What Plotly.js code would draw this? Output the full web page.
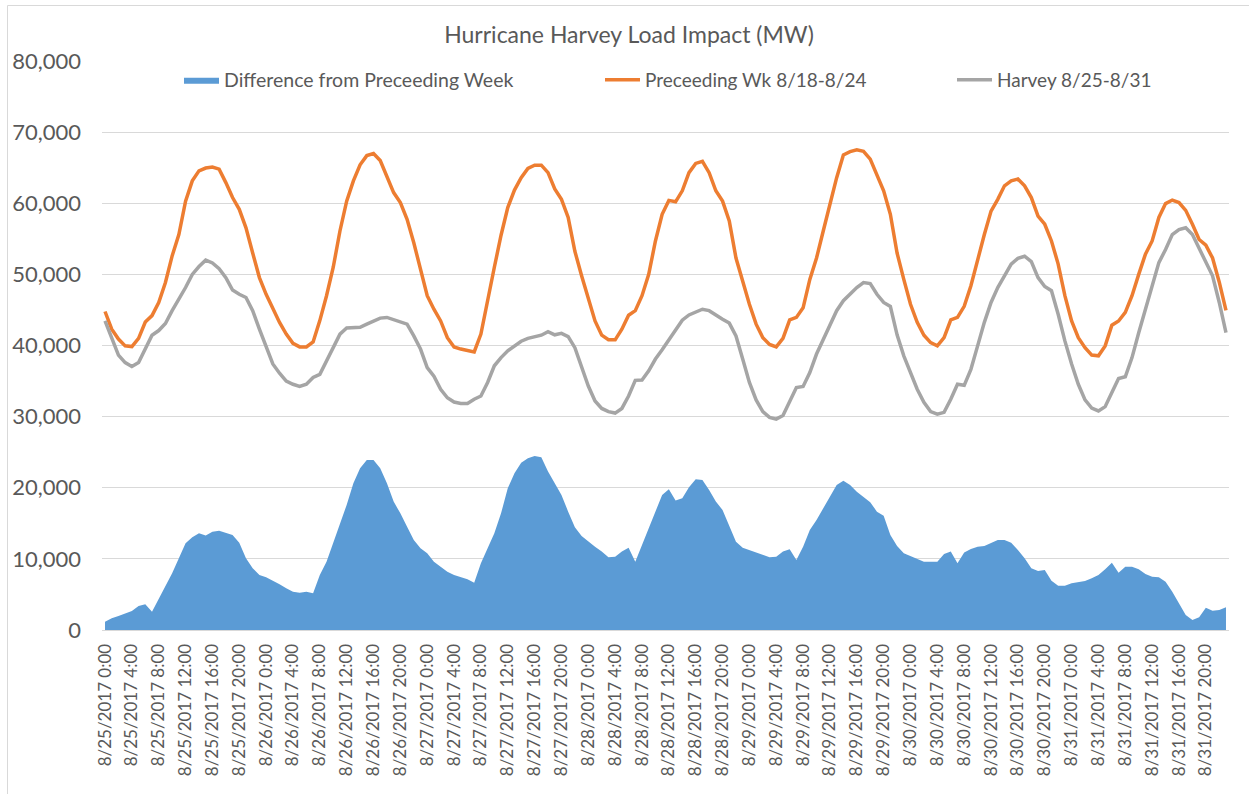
<!DOCTYPE html>
<html>
<head>
<meta charset="utf-8">
<script src="https://cdn.plot.ly/plotly-3.0.1.min.js"></script>
<style>
  html, body { margin: 0; padding: 0; background: #ffffff; }
  #chart { width: 1249px; height: 794px; }
</style>
</head>
<body>
<div id="chart"></div>
<script>
// Hourly load, 8/25/2017 0:00 through 8/31/2017 23:00 (MW)
const days = ['8/25/2017', '8/26/2017', '8/27/2017', '8/28/2017', '8/29/2017', '8/30/2017', '8/31/2017'];

const hours = [];
for (const d of days) {
  for (let h = 0; h < 24; h++) hours.push(d + ' ' + h + ':00');
}
// Axis labels every 4 hours
const tickLabels = hours.filter((_, i) => i % 4 === 0);

const difference = [
  1170, 1640, 1970, 2340, 2670, 3380, 3610, 2580, 4450, 6330,
  7970, 10080, 12190, 13030, 13600, 13270, 13830, 13970, 13690, 13360,
  12280, 10080, 8670, 7740, 7410, 6940, 6420, 5860, 5390, 5250,
  5390, 5160, 7740, 9610, 12190, 14770, 17580, 20630, 22740, 23910,
  23910, 22740, 20630, 18050, 16400, 14530, 12660, 11490, 10780, 9610,
  8910, 8200, 7740, 7410, 7130, 6660, 9380, 11490, 13600, 16410,
  19920, 22030, 23530, 24140, 24470, 24280, 22270, 20630, 18990, 16640,
  14440, 13220, 12420, 11720, 11020, 10220, 10310, 11020, 11580, 9610,
  11950, 14300, 16640, 18990, 19780, 18190, 18520, 20060, 21190, 21100,
  19690, 18050, 16880, 14530, 12420, 11580, 11250, 10880, 10550, 10220,
  10310, 11020, 11340, 9840, 11700, 14060, 15470, 17110, 18750, 20390,
  21000, 20390, 19450, 18750, 17950, 16640, 16080, 13360, 11810, 10780,
  10410, 10080, 9610, 9610, 9610, 10690, 11020, 9380, 10880, 11390,
  11720, 11810, 12190, 12660, 12660, 12280, 11250, 10080, 8670, 8300,
  8440, 6940, 6230, 6230, 6560, 6700, 6890, 7270, 7740, 8530,
  9470, 8060, 8910, 8910, 8530, 7880, 7500, 7410, 6800, 5390,
  3750, 2110, 1410, 1780, 3140, 2720, 2810, 3190
];

const preceding = [
  44780, 42300, 40900, 39950, 39850, 41000, 43300, 44200, 46050, 48850,
  52600, 55600, 60300, 63150, 64550, 64950, 65100, 64800, 62900, 60800,
  59150, 56550, 53000, 49550, 47200, 45100, 43250, 41600, 40300, 39800,
  39800, 40500, 43500, 47000, 51000, 56100, 60300, 63150, 65400, 66700,
  67000, 66000, 63600, 61500, 60100, 57750, 54450, 50800, 47000, 45100,
  43450, 41100, 39800, 39500, 39350, 39100, 41600, 46500, 51000, 55500,
  59400, 61850, 63600, 64900, 65350, 65350, 64300, 62000, 60550, 58000,
  53250, 49800, 46500, 43450, 41450, 40800, 40800, 42300, 44250, 44900,
  47000, 50000, 54700, 58450, 60400, 60200, 61750, 64300, 65600, 65900,
  64300, 61750, 60300, 57500, 52300, 48900, 45800, 43000, 41100, 40150,
  39800, 41000, 43600, 43950, 45300, 49300, 52300, 56100, 59850, 63600,
  66800, 67250, 67500, 67300, 66200, 63850, 61750, 58450, 53000, 49300,
  45800, 43250, 41450, 40400, 39950, 41100, 43600, 43950, 45500, 48400,
  52150, 55600, 58900, 60550, 62450, 63150, 63400, 62450, 60800, 58200,
  57050, 54700, 51450, 47000, 43450, 41100, 39700, 38650, 38550, 39950,
  42850, 43450, 44650, 47000, 50000, 52850, 54700, 58000, 59950, 60450,
  60100, 59000, 57050, 54900, 54100, 52300, 48900, 44950
];

const harvey = [
  43470, 40900, 38640, 37600, 37050, 37600, 39500, 41450, 42100, 43100,
  44900, 46500, 48150, 50000, 51100, 52000, 51600, 50800, 49550, 47800,
  47200, 46750, 44900, 42300, 39950, 37400, 36100, 35000, 34550, 34250,
  34550, 35500, 35950, 37850, 39950, 41600, 42450, 42550, 42550, 43000,
  43450, 43850, 43950, 43600, 43350, 43000, 41350, 39500, 36900, 35700,
  33850, 32650, 32050, 31850, 31850, 32450, 32900, 34800, 37150, 38300,
  39250, 39950, 40600, 41000, 41200, 41450, 41950, 41500, 41700, 41250,
  39700, 36900, 34300, 32200, 31150, 30700, 30500, 31150, 32900, 35100,
  35150, 36450, 38100, 39400, 40800, 42150, 43550, 44300, 44750, 45100,
  44900, 44250, 43700, 43150, 41350, 38100, 34800, 32350, 30700, 29900,
  29650, 30150, 32250, 34100, 34250, 36200, 38800, 40900, 43000, 44900,
  46300, 47200, 48150, 48850, 48700, 47200, 46050, 45500, 41500, 38550,
  36200, 33850, 32000, 30700, 30350, 30600, 32450, 34550, 34400, 36650,
  39950, 43250, 46050, 48150, 49800, 51450, 52250, 52550, 51800, 49550,
  48300, 47700, 44400, 40650, 37400, 34550, 32350, 31200, 30800, 31400,
  33400, 35350, 35600, 38300, 41800, 45100, 48400, 51650, 53500, 55600,
  56300, 56550, 55600, 53750, 51650, 49800, 46050, 41800
];

const seriesNames = ['Difference from Preceeding Week', 'Preceeding Wk 8/18-8/24', 'Harvey 8/25-8/31'];
const seriesColors = ['#5B9BD5', '#ED7D31', '#A5A5A5'];

// Plot-area geometry in pixels, used to place legends and the frame
const W = 1249, H = 794;
const L = 102, R = 1229, T = 61, B = 630;
const px = p => (p - L) / (R - L);
const py = p => (B - p) / (B - T);

const FONT = 'Lato, "Open Sans", "Liberation Sans", sans-serif';
const TXT = '#595959';

const traces = [
  {
    type: 'scatter', mode: 'lines', name: seriesNames[0],
    x: hours, y: difference,
    fill: 'tozeroy', fillcolor: seriesColors[0],
    line: { color: seriesColors[0], width: 0 },
    legend: 'legend', hoverinfo: 'x+y'
  },
  {
    type: 'scatter', mode: 'lines', name: seriesNames[1],
    x: hours, y: preceding,
    line: { color: seriesColors[1], width: 3.5 },
    legend: 'legend2', hoverinfo: 'x+y'
  },
  {
    type: 'scatter', mode: 'lines', name: seriesNames[2],
    x: hours, y: harvey,
    line: { color: seriesColors[2], width: 3.5 },
    legend: 'legend3', hoverinfo: 'x+y'
  }
];

const legendBase = size => ({
  orientation: 'h', xanchor: 'left', yanchor: 'middle',
  bgcolor: 'rgba(0,0,0,0)', borderwidth: 0,
  font: { family: FONT, size: size, color: TXT },
  itemwidth: 35
});

const layout = {
  width: W, height: H,
  margin: { l: L, r: W - R, t: T, b: H - B, pad: 0 },
  paper_bgcolor: '#ffffff', plot_bgcolor: '#ffffff',
  font: { family: FONT, color: TXT },
  title: {
    text: 'Hurricane Harvey Load Impact (MW)',
    font: { family: FONT, size: 23, color: TXT },
    xref: 'container', yref: 'container',
    x: 629 / W, y: 1 - 35 / H, xanchor: 'center', yanchor: 'middle'
  },
  xaxis: {
    type: 'category',
    range: [-0.45, hours.length - 1 + 0.45],
    tickmode: 'array', tickvals: tickLabels, ticktext: tickLabels,
    tickangle: -90, ticks: '', showgrid: false, zeroline: false,
    showline: true, linecolor: '#d9d9d9', linewidth: 1,
    tickfont: { family: FONT, size: 17, color: TXT },
    ticklabelstandoff: 6
  },
  yaxis: {
    range: [0, 80000], tick0: 0, dtick: 10000, tickformat: ',d',
    ticks: '', showline: false, zeroline: false,
    showgrid: true, gridcolor: '#d9d9d9', gridwidth: 1,
    tickfont: { family: FONT, size: 22, color: TXT },
    ticklabelstandoff: 20
  },
  showlegend: true,
  legend: Object.assign(legendBase(19.5), { x: px(179), y: py(80) }),
  legend2: Object.assign(legendBase(19), { x: px(600), y: py(80) }),
  legend3: Object.assign(legendBase(19), { x: px(952), y: py(80) }),
  shapes: [
    {
      type: 'rect', xref: 'paper', yref: 'paper', layer: 'below',
      x0: px(7.5), x1: px(1400), y0: py(5.5), y1: py(1000),
      line: { color: '#d9d9d9', width: 1 }, fillcolor: 'rgba(0,0,0,0)'
    }
  ]
};

Plotly.newPlot('chart', traces, layout, { displayModeBar: false, responsive: false });
</script>
</body>
</html>
